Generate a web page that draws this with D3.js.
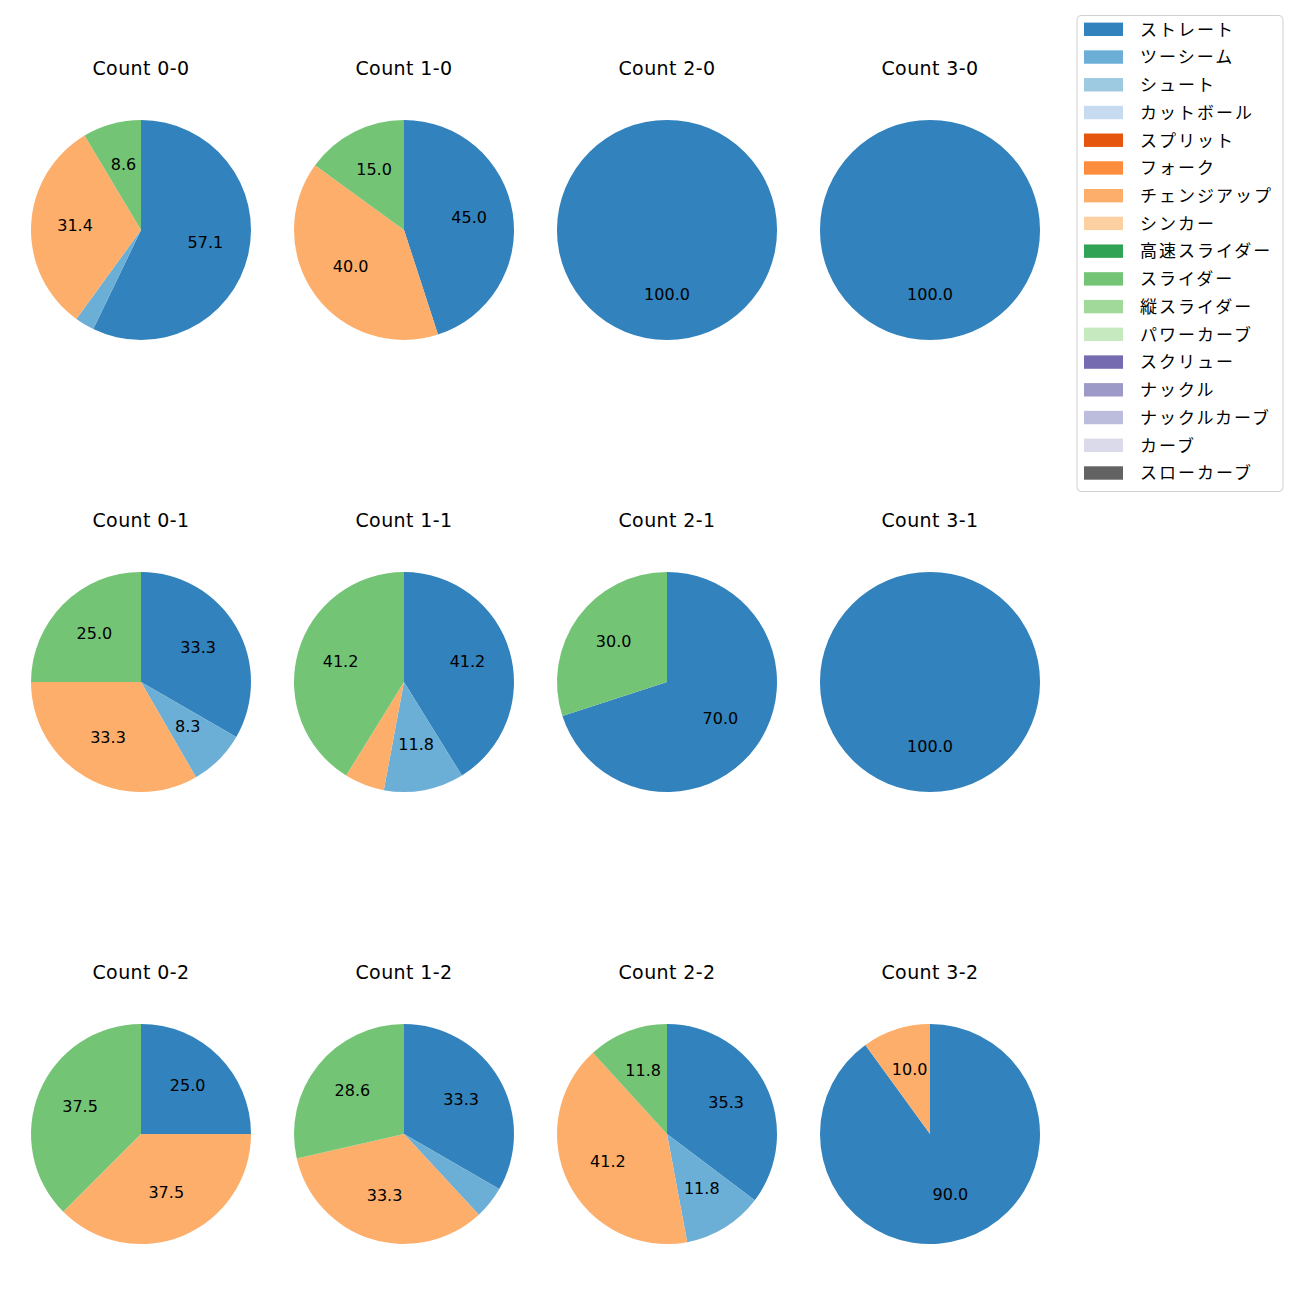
<!DOCTYPE html>
<html><head><meta charset="utf-8">
<script src="https://cdn.jsdelivr.net/npm/d3@7"></script>
<style>body{margin:0;background:#fff}svg{display:block;font-family:"Noto Sans CJK JP","Noto Sans",sans-serif}</style>
</head><body><svg id="c" width="1300" height="1300"></svg>
<script>
const pitchTypes = ["ストレート","ツーシーム","シュート","カットボール","スプリット","フォーク","チェンジアップ","シンカー","高速スライダー","スライダー","縦スライダー","パワーカーブ","スクリュー","ナックル","ナックルカーブ","カーブ","スローカーブ"];
const colors = ["#3182bd","#6baed6","#9ecae1","#c6dbef","#e6550d","#fd8d3c","#fdae6b","#fdd0a2","#31a354","#74c476","#a1d99b","#c7e9c0","#756bb1","#9e9ac8","#bcbddc","#dadaeb","#636363"];
const countLabels = ["0-0","1-0","2-0","3-0","0-1","1-1","2-1","3-1","0-2","1-2","2-2","3-2"];
// pitch counts per count situation (order of countLabels)
const straight  = [20, 9, 3, 2, 4, 7, 7, 3, 2, 7, 6, 9];
const twoSeam   = [ 1, 0, 0, 0, 1, 2, 0, 0, 0, 1, 2, 0];
const changeUp  = [11, 8, 0, 0, 4, 1, 0, 0, 3, 7, 7, 1];
const slider    = [ 3, 3, 0, 0, 3, 7, 3, 0, 3, 6, 2, 0];
const seriesByType = {"ストレート": straight, "ツーシーム": twoSeam, "チェンジアップ": changeUp, "スライダー": slider};

const svg = d3.select("#c");
const colorScale = d3.scaleOrdinal().domain(pitchTypes).range(colors);
const colX = d3.scalePoint().domain([0,1,2,3]).range([141, 930]);
const rowY = d3.scalePoint().domain([0,1,2]).range([230, 1134]);
const R = 110;
const pie = d3.pie().sort(null).value(d => d.v);
const arc = d3.arc().innerRadius(0).outerRadius(R);
const labelArc = d3.arc().innerRadius(R*0.6).outerRadius(R*0.6);

countLabels.forEach((cl, i) => {
  const col = i % 4, row = Math.floor(i / 4);
  const cx = colX(col), cy = rowY(row);
  const g = svg.append("g").attr("transform", `translate(${cx},${cy})`);
  const data = pitchTypes.map(p => ({p, v: seriesByType[p] ? seriesByType[p][i] : 0})).filter(d => d.v > 0);
  const total = d3.sum(data, d => d.v);
  const arcs = pie(data);
  g.selectAll("path").data(arcs).join("path")
    .attr("d", arc).attr("fill", d => colorScale(d.data.p));
  g.selectAll("text.lbl").data(arcs.filter(d => d.data.v / total * 100 >= 7)).join("text")
    .attr("class","lbl")
    .attr("transform", d => { const c = labelArc.centroid(d); return `translate(${c[0]},${c[1] + 3.5})`; })
    .attr("text-anchor","middle")
    .style("font-family", "'DejaVu Sans', sans-serif")
    .attr("font-size", 16).attr("fill","#000")
    .text(d => (d.data.v / total * 100).toFixed(1));
  g.append("text").attr("x", 0).attr("y", -155.5)
    .attr("text-anchor","middle")
    .style("font-family", "'DejaVu Sans', sans-serif")
    .style("letter-spacing", "0.4px")
    .attr("font-size", 19).attr("fill","#000")
    .text("Count " + cl);
});

// legend
const lg = svg.append("g");
lg.append("rect").attr("x", 1077).attr("y", 15.5).attr("width", 206).attr("height", 476)
  .attr("rx", 4).attr("fill", "#fff").attr("stroke", "#d0d0d0").attr("stroke-width", 1);
const ly = d3.scaleLinear().domain([0, pitchTypes.length - 1]).range([29.3, 473]);
pitchTypes.forEach((p, i) => {
  lg.append("rect").attr("x", 1084).attr("y", ly(i) - 6.7).attr("width", 39).attr("height", 13.4).attr("fill", colorScale(p));
  lg.append("text").attr("x", 1140).attr("y", ly(i) + 6.3)
    .style("letter-spacing", "2px")
    .attr("font-size", 17).attr("fill","#000").text(p);
});
</script></body></html>
